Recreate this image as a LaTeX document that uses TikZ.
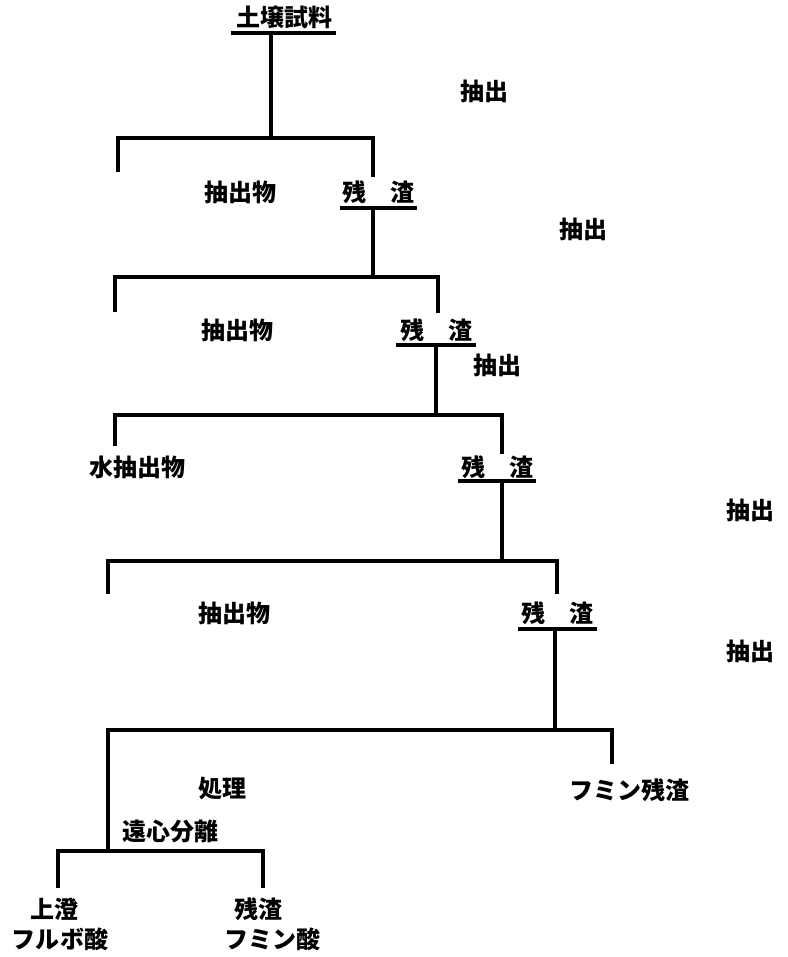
\documentclass[tikz,border=0pt]{standalone}
\usepackage{fontspec}
\newfontfamily\cjk{Noto Sans CJK JP}
\begin{document}
\begin{tikzpicture}[x=1pt,y=-1pt,
  lbl/.style={font=\cjk\bfseries\fontsize{24}{26}\selectfont, inner sep=0pt},
  ln/.style={line width=3.2pt, line cap=rect}]
\useasboundingbox (0,0) rectangle (787,957);
% labels
\node[lbl] (soil) at (284,17) {土壌試料};
\node[lbl] (e1) at (484,91) {抽出};
\node[lbl] (x1) at (240,192) {抽出物};
\node[lbl] (r1) at (378,192) {残　渣};
\node[lbl] (e2) at (583,229) {抽出};
\node[lbl] (x2) at (237,330) {抽出物};
\node[lbl] (r2) at (436,330) {残　渣};
\node[lbl] (e3) at (497,365) {抽出};
\node[lbl] (x3) at (137,467) {水抽出物};
\node[lbl] (r3) at (497,467) {残　渣};
\node[lbl] (e4) at (750,510) {抽出};
\node[lbl] (x4) at (234,613) {抽出物};
\node[lbl] (r4) at (557,613) {残　渣};
\node[lbl] (e5) at (750,651) {抽出};
\node[lbl] (tr) at (222,789) {処理};
\node[lbl] (hr) at (629,790) {フミン残渣};
\node[lbl] (cf) at (170,831) {遠心分離};
\node[lbl] (su) at (54,909) {上澄};
\node[lbl] (fa) at (60,939) {フルボ酸};
\node[lbl] (rs) at (258,909) {残渣};
\node[lbl] (ha) at (272,939) {フミン酸};
% underlines
\coordinate (u0) at (271,33);
\draw[ln] (233,33) -- (u0) -- (334,33);
\coordinate (u1) at (373,208);
\draw[ln] (342,208) -- (u1) -- (415,208);
\coordinate (u2) at (436,345);
\draw[ln] (398,345) -- (u2) -- (474,345);
\coordinate (u3) at (502,481);
\draw[ln] (460,481) -- (u3) -- (534,481);
\coordinate (u4) at (555,629);
\draw[ln] (520,629) -- (u4) -- (595,629);
% level 1
\coordinate (b1) at (271,138);
\coordinate (l1) at (118,138); \coordinate (l1e) at (118,170);
\coordinate (k1) at (373,138); \coordinate (k1e) at (373,175);
\draw[ln] (u0) -- (b1);
\draw[ln] (l1e) -- (l1) -- (k1) -- (k1e);
% level 2
\coordinate (b2) at (373,277);
\coordinate (l2) at (115,277); \coordinate (l2e) at (115,310);
\coordinate (k2) at (438,277); \coordinate (k2e) at (438,311);
\draw[ln] (u1) -- (b2);
\draw[ln] (l2e) -- (l2) -- (k2) -- (k2e);
% level 3
\coordinate (b3) at (436,415);
\coordinate (l3) at (115,415); \coordinate (l3e) at (115,444);
\coordinate (k3) at (502,415); \coordinate (k3e) at (502,452);
\draw[ln] (u2) -- (b3);
\draw[ln] (l3e) -- (l3) -- (k3) -- (k3e);
% level 4
\coordinate (b4) at (502,561);
\coordinate (l4) at (108,561); \coordinate (l4e) at (108,592);
\coordinate (k4) at (557,561); \coordinate (k4e) at (557,592);
\draw[ln] (u3) -- (b4);
\draw[ln] (l4e) -- (l4) -- (k4) -- (k4e);
% level 5
\coordinate (b5) at (555,730);
\coordinate (l5) at (108,730); \coordinate (l5e) at (108,851);
\coordinate (k5) at (612,730); \coordinate (k5e) at (612,762);
\draw[ln] (u4) -- (b5);
\draw[ln] (l5e) -- (l5) -- (k5) -- (k5e);
% level 6
\coordinate (l6) at (58,851); \coordinate (l6e) at (58,886);
\coordinate (k6) at (263,851); \coordinate (k6e) at (263,886);
\draw[ln] (l6e) -- (l6) -- (k6) -- (k6e);
\end{tikzpicture}
\end{document}
